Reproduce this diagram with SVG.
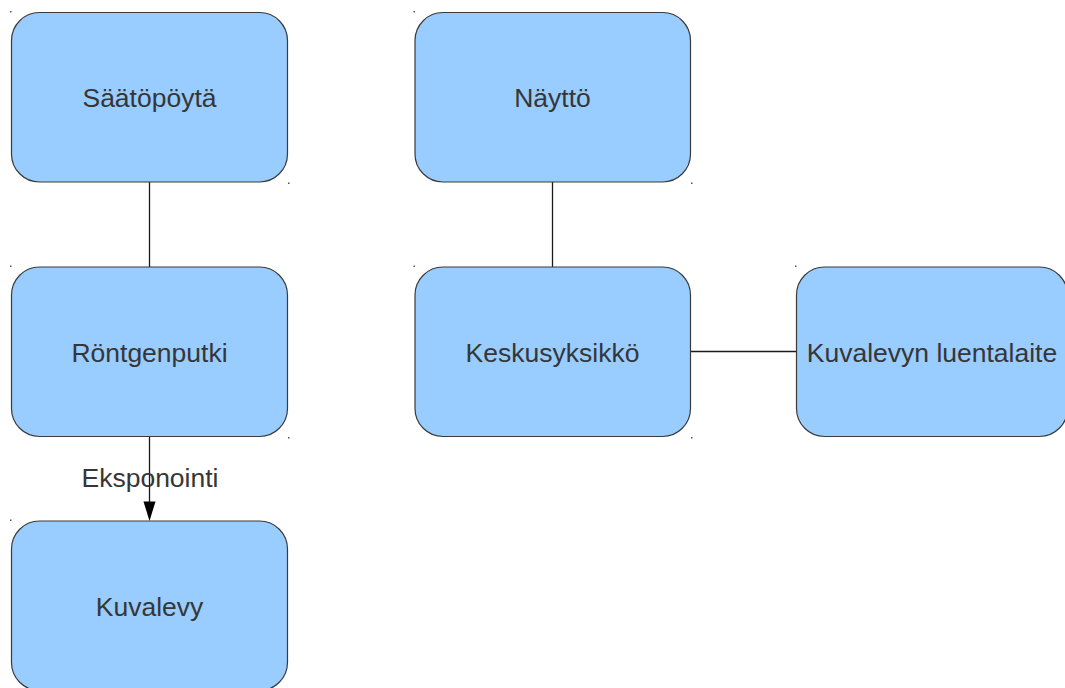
<svg xmlns="http://www.w3.org/2000/svg" width="1065" height="688" viewBox="0 0 1065 688">
<style>
.box{fill:#99ccff;stroke:#3a3a3a;stroke-width:1.2}
.lbl{font-family:"Liberation Sans",Arial,sans-serif;font-size:26.5px;fill:#363636;text-anchor:middle}
.dot{fill:#555555}
.conn{stroke:#1a1a1a;stroke-width:1.3;fill:none}
</style>
<rect width="1065" height="688" fill="#ffffff"/>
<g id="connectors">
<line class="conn" x1="149.5" y1="182" x2="149.5" y2="267"/>
<line class="conn" x1="552.5" y1="182" x2="552.5" y2="267"/>
<line class="conn" x1="691" y1="351.5" x2="796.5" y2="351.5"/>
<line class="conn" x1="149.5" y1="436.5" x2="149.5" y2="503"/>
<path d="M143.5,501.5 L155.5,501.5 L149.5,521 Z" fill="#000"/>
<text class="lbl" x="150" y="487">Eksponointi</text>
</g>
<g id="saatopoyta">
<rect class="box" x="11.5" y="12.5" width="276" height="169.5" rx="28" ry="28"/>
<rect class="dot" x="10" y="11" width="1.5" height="1.5"/>
<rect class="dot" x="288" y="182.5" width="1.5" height="1.5"/>
<text class="lbl" x="149.5" y="107">Säätöpöytä</text>
</g>
<g id="naytto">
<rect class="box" x="415" y="12.5" width="275.5" height="169.5" rx="28" ry="28"/>
<rect class="dot" x="413.5" y="11" width="1.5" height="1.5"/>
<rect class="dot" x="691" y="182.5" width="1.5" height="1.5"/>
<text class="lbl" x="552.5" y="107">Näyttö</text>
</g>
<g id="rontgenputki">
<rect class="box" x="11.5" y="267" width="276" height="169.5" rx="28" ry="28"/>
<rect class="dot" x="10" y="265.5" width="1.5" height="1.5"/>
<rect class="dot" x="288" y="437" width="1.5" height="1.5"/>
<text class="lbl" x="149.5" y="361.5">Röntgenputki</text>
</g>
<g id="keskusyksikko">
<rect class="box" x="415" y="267" width="275.5" height="169.5" rx="28" ry="28"/>
<rect class="dot" x="413.5" y="265.5" width="1.5" height="1.5"/>
<rect class="dot" x="691" y="437" width="1.5" height="1.5"/>
<text class="lbl" x="552.5" y="361.5">Keskusyksikkö</text>
</g>
<g id="kuvalevyn-luentalaite">
<rect class="box" x="796.5" y="267" width="271" height="169.5" rx="28" ry="28"/>
<rect class="dot" x="795" y="265.5" width="1.5" height="1.5"/>
<text class="lbl" x="932" y="361.5">Kuvalevyn luentalaite</text>
</g>
<g id="kuvalevy">
<rect class="box" x="11.5" y="521" width="276" height="169.5" rx="28" ry="28"/>
<rect class="dot" x="10" y="519.5" width="1.5" height="1.5"/>
<text class="lbl" x="149.5" y="615.5">Kuvalevy</text>
</g>
</svg>
